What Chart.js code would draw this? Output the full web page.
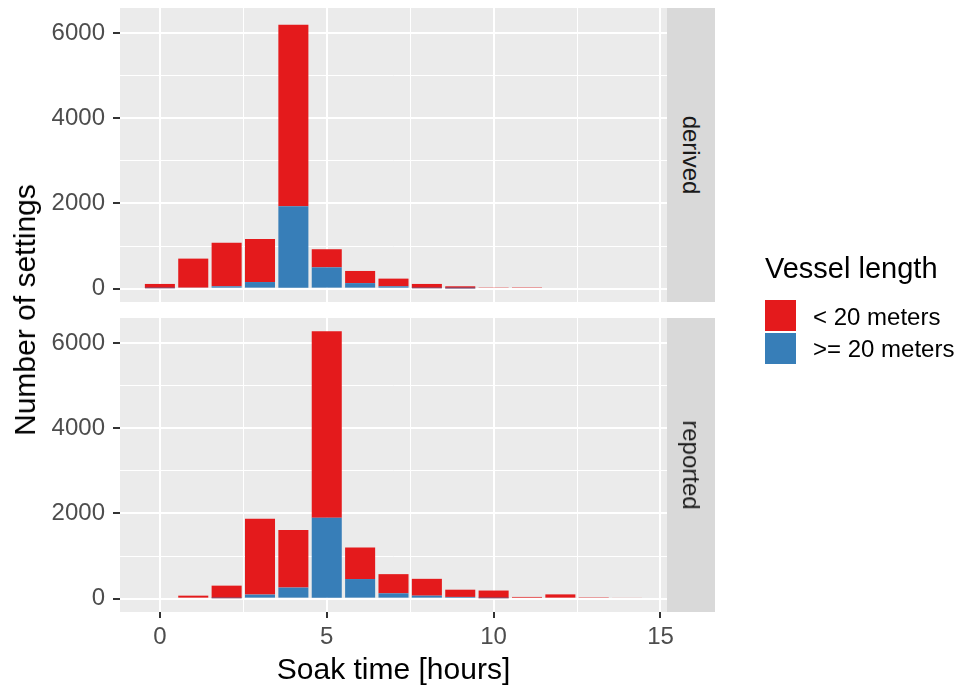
<!DOCTYPE html>
<html>
<head>
<meta charset="utf-8">
<title>Soak time</title>
<script src="https://cdn.jsdelivr.net/npm/chart.js@4.4.0/dist/chart.umd.min.js"></script>
<style>
    body { margin: 0; background: #fff; }
    #wrap { position: relative; width: 964px; height: 694px; overflow: hidden;
            font-family: "Liberation Sans", Arial, Helvetica, sans-serif; }
    canvas { position: absolute; left: 0; }
    #chartDerived { top: 0; }
    #chartReported { top: 318px; }
    .strip { position: absolute; left: 667px; width: 48px; height: 294px; background: #D9D9D9; }
    .strip span { position: absolute; left: 50%; top: 50%; white-space: nowrap;
                  transform: translate(-50%, -50%) rotate(90deg); font-size: 24px; color: #1A1A1A; }
    #yTitle { position: absolute; left: 25px; top: 310px; white-space: nowrap; font-size: 30px; color: #000;
              transform: translate(-50%, -50%) rotate(-90deg); }
    #legendTitle { position: absolute; left: 765px; top: 252px; font-size: 29px; line-height: 32px; color: #000; }
    .key { position: absolute; left: 765px; width: 31px; height: 31px; }
    .keyLabel { position: absolute; left: 813px; font-size: 24px; line-height: 28px; color: #000; white-space: nowrap; }
</style>
</head>
<body>
<div id="wrap">
    <canvas id="chartDerived" width="964" height="302"></canvas>
    <canvas id="chartReported" width="964" height="376"></canvas>
    <div class="strip" style="top:8px"><span>derived</span></div>
    <div class="strip" style="top:318px"><span>reported</span></div>
    <div id="yTitle">Number of settings</div>
    <div id="legendTitle">Vessel length</div>
    <div class="key" style="top:300px; background:#E41A1C"></div>
    <div class="key" style="top:333px; background:#377EB8"></div>
    <div class="keyLabel" style="top:303px">&lt; 20 meters</div>
    <div class="keyLabel" style="top:335px">&gt;= 20 meters</div>
</div>
<script>
// Soak time bins (hours)
const hours = [0, 1, 2, 3, 4, 5, 6, 7, 8, 9, 10, 11, 12, 13, 14];

// derived panel
const derivedSmall = [100, 680, 1020, 1010, 4260, 425, 285, 180, 100, 50, 30, 15, 0, 0, 0];
const derivedLarge = [10, 25, 55, 155, 1935, 500, 130, 55, 10, 5, 0, 0, 0, 0, 0];

// reported panel
const reportedSmall = [0, 70, 295, 1780, 1350, 4375, 740, 450, 395, 170, 180, 40, 100, 15, 25];
const reportedLarge = [0, 0, 10, 95, 260, 1900, 460, 125, 70, 40, 10, 0, 0, 0, 0];

// ticks
const xMajor = [0, 5, 10, 15];
const xMinor = [2.5, 7.5, 12.5];
const yMajor = [0, 2000, 4000, 6000];
const yMinor = [1000, 3000, 5000];

const RED = '#E41A1C';
const BLUE = '#377EB8';

Chart.defaults.font.family = '"Liberation Sans", Arial, Helvetica, sans-serif';

// ggplot style range: bars are 0.9 wide, 5% expansion
const xLo = -0.45, xHi = 14.45;
const xPad = (xHi - xLo) * 0.05;
const totals = hours.map((h, i) => Math.max(
    derivedSmall[i] + derivedLarge[i], reportedSmall[i] + reportedLarge[i]));
const yTop = Math.max(...totals);
const yPad = yTop * 0.05;

function isMajor(c, list) {
    return !!(c && c.tick && list.includes(c.tick.value));
}

// fundo cinza do painel
const panelBg = {
    id: 'panelBg',
    beforeDraw(chart) {
        const a = chart.chartArea;
        const ctx = chart.ctx;
        ctx.save();
        ctx.fillStyle = '#EBEBEB';
        ctx.fillRect(a.left, a.top, a.right - a.left, a.bottom - a.top);
        ctx.restore();
    }
};

function makePanel(canvasId, small, large, showX) {
    const xTicks = xMajor.concat(xMinor).sort((a, b) => a - b);
    const yTicks = yMajor.concat(yMinor).sort((a, b) => a - b);
    return new Chart(document.getElementById(canvasId), {
        type: 'bar',
        data: {
            labels: hours,
            datasets: [
                { label: '>= 20 meters', data: large, backgroundColor: BLUE, borderWidth: 0 },
                { label: '< 20 meters', data: small, backgroundColor: RED, borderWidth: 0 }
            ]
        },
        options: {
            responsive: false,
            animation: false,
            devicePixelRatio: 1,
            categoryPercentage: 1,
            barPercentage: 0.9,
            layout: { padding: { top: showX ? 0 : 8, right: 964 - 667, left: 0, bottom: 0 } },
            plugins: { legend: { display: false }, tooltip: { enabled: false } },
            scales: {
                x: {
                    type: 'linear',
                    stacked: true,
                    offset: false,
                    min: xLo - xPad,
                    max: xHi + xPad,
                    afterBuildTicks: s => { s.ticks = xTicks.map(v => ({ value: v })); },
                    afterFit: s => {
                        s.height = showX ? 82 : 0;
                        s.paddingLeft = 0;
                        s.paddingRight = 0;
                    },
                    border: { display: false },
                    grid: {
                        offset: false,
                        color: '#FFFFFF',
                        lineWidth: c => isMajor(c, xMajor) ? 2 : 1,
                        drawTicks: showX,
                        tickLength: 6,
                        tickWidth: 2,
                        tickColor: c => isMajor(c, xMajor) ? '#333333' : 'rgba(0,0,0,0)'
                    },
                    ticks: {
                        display: showX,
                        autoSkip: false,
                        maxRotation: 0,
                        padding: 5,
                        color: '#4D4D4D',
                        font: { size: 24 },
                        callback: v => xMajor.includes(v) ? String(v) : ''
                    },
                    title: {
                        display: showX,
                        text: 'Soak time [hours]',
                        color: '#000000',
                        font: { size: 30 },
                        padding: { top: 0, bottom: 5 }
                    }
                },
                y: {
                    stacked: true,
                    min: -yPad,
                    max: yTop + yPad,
                    afterBuildTicks: s => { s.ticks = yTicks.map(v => ({ value: v })); },
                    afterFit: s => {
                        s.width = 120;
                        s.paddingTop = 0;
                        s.paddingBottom = 0;
                    },
                    border: { display: false },
                    grid: {
                        color: '#FFFFFF',
                        lineWidth: c => isMajor(c, yMajor) ? 2 : 1,
                        tickLength: 7,
                        tickWidth: 2,
                        tickColor: c => isMajor(c, yMajor) ? '#333333' : 'rgba(0,0,0,0)'
                    },
                    ticks: {
                        autoSkip: false,
                        padding: 8,
                        color: '#4D4D4D',
                        font: { size: 24 },
                        callback: v => yMajor.includes(v) ? String(v) : ''
                    }
                }
            }
        },
        plugins: [panelBg]
    });
}

makePanel('chartDerived', derivedSmall, derivedLarge, false);
makePanel('chartReported', reportedSmall, reportedLarge, true);
</script>
</body>
</html>
